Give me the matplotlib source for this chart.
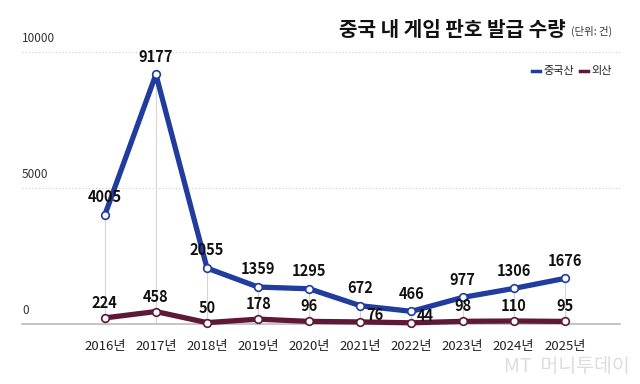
import matplotlib
matplotlib.use("Agg")
import matplotlib.pyplot as plt

plt.rcParams['font.family'] = ['Noto Sans CJK KR', 'DejaVu Sans']

years = ['2016년', '2017년', '2018년', '2019년', '2020년',
         '2021년', '2022년', '2023년', '2024년', '2025년']
china = [4005, 9177, 2055, 1359, 1295, 672, 466, 977, 1306, 1676]
foreign = [224, 458, 50, 178, 96, 76, 44, 98, 110, 95]

BLUE = '#1f3c9e'
MAROON = '#5e1838'

fig = plt.figure(figsize=(6.4, 3.84), dpi=100)
ax = fig.add_axes([22 / 640, 1 - 324 / 384, 598 / 640, 272 / 384])
x = list(range(len(years)))

# drop lines from the top series
for i, v in enumerate(china):
    ax.plot([i, i], [0, v], color='#d5d5d5', lw=0.8, zorder=1)

# grid
for g in (5000, 10000):
    ax.axhline(g, color='#cccccc', lw=0.8, ls=(0, (1, 2)), zorder=0)
ax.axhline(0, color='#bbbbbb', lw=1.2, zorder=1, clip_on=False)

ax.plot(x, china, color=BLUE, lw=3.8, zorder=3, solid_capstyle='round',
        marker='o', ms=5.5, mfc='white', mec=BLUE, mew=1.2, clip_on=False)
ax.plot(x, foreign, color=MAROON, lw=3.8, zorder=3, solid_capstyle='round',
        marker='o', ms=5.5, mfc='white', mec=MAROON, mew=1.2, clip_on=False)

for i, v in enumerate(china):
    ax.annotate(str(v), (i, v), xytext=(0, 7), textcoords='offset points',
                ha='center', va='bottom', fontsize=10.5, fontweight='bold',
                color='#111111', zorder=5)
for i, v in enumerate(foreign):
    dx, dy, ha = 0, 5, 'center'
    if years[i] in ('2021년', '2022년'):
        dx, dy, ha = 4, -1, 'left'
    ax.annotate(str(v), (i, v), xytext=(dx, dy), textcoords='offset points',
                ha=ha, va='bottom', fontsize=10.5, fontweight='bold',
                color='#111111', zorder=5)

ax.set_xlim(-1.62, 10.08)
ax.set_ylim(0, 10000)
ax.axis('off')

# y labels above gridlines
for val in (0, 5000, 10000):
    ax.text(-1.62, val + 250, str(val), ha='left', va='bottom',
            fontsize=8.5, color='#333333')

# x labels
for i, yr in enumerate(years):
    ax.text(i, -600, yr, ha='center', va='top', fontsize=9.5, color='#222222')

# title
fig.text(566 / 640, 1 - 29 / 384, '중국 내 게임 판호 발급 수량', ha='right',
         va='center', fontsize=14.5, fontweight='bold', color='#111111')
fig.text(571 / 640, 1 - 31 / 384, '(단위: 건)', ha='left', va='center',
         fontsize=7.5, color='#333333')

# legend
ly = 1 - 71 / 384
fig.add_artist(plt.Line2D([532 / 640, 540 / 640], [ly, ly], color=BLUE, lw=2.5))
fig.text(543 / 640, ly, '중국산', ha='left', va='center',
         fontsize=8, color='#222222')
fig.add_artist(plt.Line2D([580 / 640, 588 / 640], [ly, ly], color=MAROON, lw=2.5))
fig.text(591 / 640, ly, '외산', ha='left', va='center',
         fontsize=8, color='#222222')

# watermark
fig.text(630 / 640, 1 - 366 / 384, 'MT  머니투데이', ha='right', va='center',
         fontsize=14, color='#dddddd', style='italic')

fig.savefig('out.png', dpi=100, facecolor='white')
